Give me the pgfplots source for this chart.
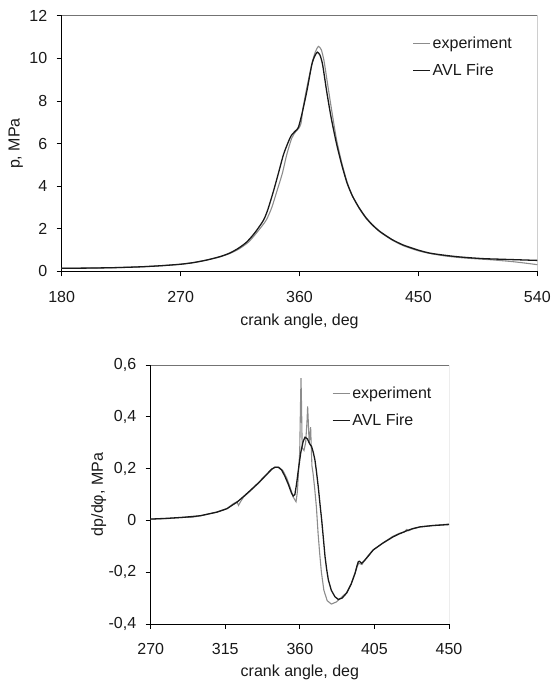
\documentclass[border=0pt]{standalone}
\usepackage{pgfplots}
\pgfplotsset{compat=1.18}
\usepackage{fontspec}
\setmainfont{Liberation Sans}

\definecolor{expgray}{gray}{0.55}
\definecolor{avlblack}{gray}{0.1}
\definecolor{txt}{gray}{0.1}

\pgfplotsset{
  engine/.style={
    scale only axis,
    axis lines*=left,
    axis line style={black, line width=0.9pt},
    tick align=outside,
    major tick length=5pt,
    tick style={black, line width=0.8pt},
    font=\fontsize{16}{19}\selectfont,
    tick label style={font=\fontsize{16}{19}\selectfont, text=txt},
    xticklabel style={yshift=-11pt},
    yticklabel style={xshift=-6pt},
    label style={font=\fontsize{16}{19}\selectfont, text=txt},
    /pgf/number format/assume math mode=true,
    /pgf/number format/use comma,
    clip=true,
    legend cell align=left,
    legend image code/.code={\draw[##1] (0pt,0pt) -- (17pt,0pt);},
    legend style={draw=none, fill=none, inner sep=0pt, row sep=10pt,
      font=\fontsize{16}{19}\selectfont, text=txt},
  },
  expline/.style={expgray, line width=1.1pt, no marks},
  avlline/.style={avlblack, line width=1.3pt, no marks},
}

\begin{document}
\begin{tikzpicture}
\path[use as bounding box] (0pt,0pt) rectangle (552pt,684pt);

% pressure
\begin{axis}[engine,
  at={(61.7pt,412.5pt)}, anchor=south west,
  width=475.6pt, height=255.8pt,
  xmin=180, xmax=540, ymin=0, ymax=12,
  xtick={180,270,360,450,540},
  ytick={0,2,4,6,8,10,12},
  xlabel={crank angle, deg},
  ylabel={p, MPa},
  xlabel style={at={(axis description cs:0.5,-0.1955)}, anchor=center},
  ylabel style={at={(axis description cs:-0.0967,0.5)}, anchor=center},
  legend style={at={(axis description cs:0.737,0.8385)}, anchor=west},
]
\addplot[expline, smooth, tension=0.4] coordinates {
(180,0.15) (200,0.16) (220,0.18) (240,0.22) (255,0.27) (270,0.34) (280,0.42)
(290,0.54) (300,0.69) (307,0.84) (314,1.05) (321.4,1.38) (328,1.85) (334.7,2.4)
(339,3.0) (342.8,3.75) (347,4.6) (350.3,5.47) (354.1,6.25) (357,6.55) (359.5,6.72)
(361.2,6.96) (362.5,7.6) (365,8.45) (368,9.35) (370,9.9) (372,10.3) (374.3,10.56)
(376.5,10.4) (378.5,9.9) (381,8.9) (384,7.7) (388,6.2) (392,5.1) (396,4.2)
(400,3.55) (405,2.98) (410,2.52) (415,2.18) (421,1.85) (430,1.48) (438.6,1.21) (450,0.97)
(460,0.83) (470,0.73) (480,0.66) (490,0.61) (505,0.55) (520,0.47) (530,0.40) (540,0.32)
};
\addlegendentry{experiment}
\addplot[avlline, smooth, tension=0.4] coordinates {
(180,0.15) (200,0.16) (220,0.18) (240,0.22) (255,0.27) (270,0.34) (280,0.42)
(290,0.54) (300,0.70) (307.4,0.87) (314,1.1) (320,1.38) (326,1.8) (332.7,2.4)
(336,2.9) (340.2,3.75) (344,4.6) (347.8,5.47) (351,6.0) (353.5,6.35) (355.3,6.49)
(357,6.6) (359.1,6.75) (361.7,7.35) (365.5,8.44) (369.3,9.7) (371.5,10.1) (373.5,10.29)
(375.5,10.15) (377.5,9.7) (380.6,8.44) (384,7.2) (388,6.0) (392,5.0) (396,4.15)
(400,3.55) (405,3.0) (410,2.55) (415,2.2) (421,1.87) (430,1.5) (438.6,1.24) (450,1.0)
(458.8,0.86) (470,0.76) (480,0.69) (490,0.64) (500,0.60) (510,0.58) (525,0.55) (540,0.52)
};
\addlegendentry{AVL Fire}
\draw[black!55, line width=0.9pt] (rel axis cs:0,1) -- (rel axis cs:1,1) -- (rel axis cs:1,0);
\end{axis}

% pressure rise rate
\begin{axis}[engine,
  at={(150.7pt,60pt)}, anchor=south west,
  width=298.3pt, height=259pt,
  xmin=270, xmax=450, ymin=-0.4, ymax=0.6,
  xtick={270,315,360,405,450},
  ytick={-0.4,-0.2,0,0.2,0.4,0.6},
  yticklabel style={/pgf/number format/fixed, /pgf/number format/precision=1},
  xlabel={crank angle, deg},
  ylabel={dp/dφ, MPa},
  xlabel style={at={(axis description cs:0.5,-0.185)}, anchor=center},
  ylabel style={at={(axis description cs:-0.174,0.5)}, anchor=center},
  legend style={at={(axis description cs:0.607,0.839)}, anchor=west},
]
\addplot[expline] coordinates {
(270,0.005) (280,0.007) (290,0.012) (295,0.012) (300,0.018) (310,0.032) (316,0.046)
(320,0.065) (322,0.072) (323,0.058) (324,0.07) (326,0.09) (330,0.113) (335,0.143)
(340,0.176) (343,0.196) (345,0.206) (347.5,0.205) (350,0.19) (352,0.165) (354,0.13)
(356,0.09) (357.7,0.072) (358.5,0.11) (359.3,0.2) (359.9,0.26) (360.4,0.45) (360.7,0.549)
(361.0,0.45) (361.4,0.28) (362.5,0.27) (363.5,0.3) (364.3,0.38) (364.7,0.44) (365.1,0.38)
(365.6,0.3) (366.1,0.33) (366.5,0.36) (366.9,0.28) (367.3,0.21) (368,0.18) (369,0.12)
(370,0.05) (371,-0.05) (372,-0.13) (373,-0.2) (374.5,-0.27) (376.5,-0.31) (379,-0.323)
(382,-0.315) (385,-0.298) (388.3,-0.278) (391,-0.245) (393.3,-0.205) (394.5,-0.18)
(395.5,-0.165) (396.5,-0.168) (397.5,-0.17) (399,-0.155) (401,-0.138) (404,-0.115)
(410,-0.088) (416,-0.062) (420,-0.05) (423,-0.045) (424.5,-0.035) (425.5,-0.04)
(428,-0.033) (432,-0.026) (440,-0.02) (450,-0.014)
};
\addlegendentry{experiment}
\addplot[avlline] coordinates {
(270,0.005) (280,0.008) (290,0.012) (300,0.018) (310,0.032) (316,0.045) (320,0.062)
(322,0.07) (326,0.092) (330,0.115) (335,0.145) (340,0.178) (343,0.198) (345,0.205)
(347,0.205) (349,0.195) (351,0.17) (353,0.14) (355,0.105) (356,0.094) (357,0.1)
(358,0.14) (359.1,0.195) (360.5,0.26) (362,0.305) (363.1,0.321) (364.5,0.315)
(366,0.295) (367.1,0.285) (368.2,0.26) (369.1,0.233) (370,0.19) (371.1,0.13)
(372.2,0.06) (373.2,0.0) (374.2,-0.07) (375.2,-0.14) (376.2,-0.19) (377.2,-0.23)
(379,-0.27) (381.2,-0.295) (383.2,-0.305) (385.5,-0.3) (388.3,-0.28) (391,-0.245)
(393.3,-0.204) (394.5,-0.175) (395.3,-0.159) (396,-0.158) (397.3,-0.166) (399,-0.155)
(401,-0.14) (404.3,-0.114) (410,-0.088) (416.4,-0.063) (420,-0.052) (424.5,-0.04)
(428,-0.032) (432.5,-0.025) (440,-0.02) (450,-0.016)
};
\addlegendentry{AVL Fire}
\draw[black!55, line width=0.9pt] (rel axis cs:0,1) -- (rel axis cs:1,1) -- (rel axis cs:1,0);
\end{axis}
\end{tikzpicture}
\end{document}
